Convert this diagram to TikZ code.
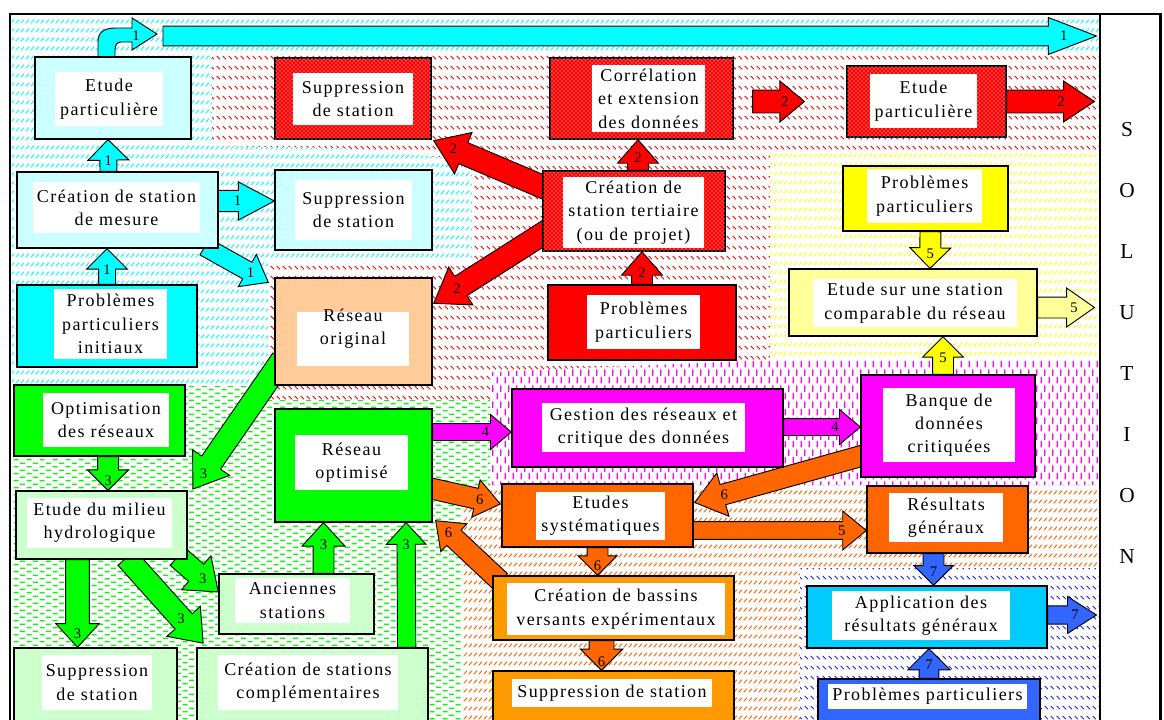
\documentclass[tikz,border=0pt]{standalone}
\usepackage{fontspec}
\setmainfont{Liberation Serif}
\newfontfamily\boxfam{Liberation Serif}[LetterSpace=8]
\usetikzlibrary{calc,fit,patterns,shapes.arrows}

\definecolor{lcyan}{HTML}{CCFFFF}
\definecolor{aqua}{HTML}{00FFFF}
\definecolor{peach}{HTML}{FFCC99}
\definecolor{fred}{HTML}{FF0000}
\definecolor{fyellow}{HTML}{FFFF00}
\definecolor{lyellow}{HTML}{FFFF99}
\definecolor{fmagenta}{HTML}{FF00FF}
\definecolor{fgreen}{HTML}{00FF00}
\definecolor{lgreen}{HTML}{CCFFCC}
\definecolor{forange}{HTML}{FF6600}
\definecolor{amber}{HTML}{FF9900}
\definecolor{sky}{HTML}{00CCFF}
\definecolor{royal}{HTML}{3366FF}
\definecolor{hatchblue}{HTML}{2222EE}

\pgfdeclarepatternformonly{hatchne}{\pgfqpoint{0pt}{0pt}}{\pgfqpoint{4pt}{7pt}}{\pgfqpoint{4pt}{7pt}}{%
  \pgfsetlinewidth{0.75pt}%
  \pgfpathmoveto{\pgfqpoint{0.6pt}{0.6pt}}\pgfpathlineto{\pgfqpoint{3.4pt}{3.4pt}}\pgfusepath{stroke}}
\pgfdeclarepatternformonly{hatchnw}{\pgfqpoint{0pt}{0pt}}{\pgfqpoint{4.5pt}{7.5pt}}{\pgfqpoint{4.5pt}{7.5pt}}{%
  \pgfsetlinewidth{0.75pt}%
  \pgfpathmoveto{\pgfqpoint{0.6pt}{3.4pt}}\pgfpathlineto{\pgfqpoint{3.4pt}{0.6pt}}\pgfusepath{stroke}}
\pgfdeclarepatternformonly{hdash}{\pgfqpoint{0pt}{0pt}}{\pgfqpoint{10pt}{5.6pt}}{\pgfqpoint{10pt}{5.6pt}}{%
  \pgfsetlinewidth{1pt}%
  \pgfpathmoveto{\pgfqpoint{0.5pt}{1pt}}\pgfpathlineto{\pgfqpoint{4.5pt}{1pt}}%
  \pgfpathmoveto{\pgfqpoint{5.5pt}{3.8pt}}\pgfpathlineto{\pgfqpoint{9.5pt}{3.8pt}}\pgfusepath{stroke}}
\pgfdeclarepatternformonly{vdash}{\pgfqpoint{0pt}{0pt}}{\pgfqpoint{6pt}{12pt}}{\pgfqpoint{6pt}{12pt}}{%
  \pgfsetlinewidth{1pt}%
  \pgfpathmoveto{\pgfqpoint{1pt}{0.5pt}}\pgfpathlineto{\pgfqpoint{1pt}{5.5pt}}%
  \pgfpathmoveto{\pgfqpoint{4pt}{6.5pt}}\pgfpathlineto{\pgfqpoint{4pt}{11.5pt}}\pgfusepath{stroke}}

\pgfdeclarelayer{background}
\pgfdeclarelayer{arrowlayer}
\pgfsetlayers{background,arrowlayer,main}

% fat arrow from #2 to #3, number #4 placed at fraction #5
\newcommand{\fatarr}[5]{%
  \path let \p1=#2, \p2=#3, \n1={veclen(\x2-\x1,\y2-\y1)}, \n2={atan2(\y2-\y1,\x2-\x1)} in
    node[fatarrow, #1, minimum height=\n1, rotate=\n2, anchor=tail] at (\p1) {}
    node[num] at ($(\p1)!#5!(\p2)$) {#4};}

\begin{document}
\begin{tikzpicture}[x=0.75pt,y=-0.75pt,
    box/.style={draw=black, line width=1pt, inner sep=0pt},
    dotbox/.style={box, fill=fred, postaction={pattern=crosshatch dots, pattern color=white}},
    txt/.style={inner sep=0pt, align=center, font={\boxfam\fontsize{13.5}{17.5}\selectfont}},
    inbox/.style={fill=white, inner sep=0pt},
    fatarrow/.style={single arrow, draw=black, line width=0.7pt, inner xsep=0pt, inner ysep=7.5pt,
      outer sep=0pt, single arrow head extend=7.5pt, single arrow tip angle=90},
    shaft/.style={inner ysep=#1},
    num/.style={inner sep=0pt, font={\fontsize{11}{11}\selectfont}},
    cyanzone/.style={fill=white, postaction={pattern=hatchne, pattern color=aqua}},
    redzone/.style={fill=white, postaction={pattern=hatchnw, pattern color=fred}},
    yellowzone/.style={fill=white, postaction={pattern=hatchne, pattern color=fyellow}},
    magzone/.style={fill=white, postaction={pattern=vdash, pattern color=fmagenta}},
    greenzone/.style={fill=white, postaction={pattern=hdash, pattern color=fgreen}},
    orangezone/.style={fill=white, postaction={pattern=hatchne, pattern color=forange}},
    bluezone/.style={fill=white, postaction={pattern=hatchnw, pattern color=hatchblue}}]

  \useasboundingbox (0,0) rectangle (1164,719);

  \begin{pgfonlayer}{background}
    \path[cyanzone] (12,15) rectangle (1100,386);
    \path[redzone] (212,52) -- (1100,52) -- (1100,150) -- (770,150) -- (770,362) -- (490,372)
      -- (490,400) -- (268,400) -- (268,262) -- (472,262) -- (472,160) -- (340,148) -- (212,146) -- cycle;
    \path[yellowzone] (770,150) rectangle (1100,360);
    \path[magzone] (490,372) -- (770,360) -- (1100,360) -- (1100,485) -- (490,485) -- cycle;
    \path[greenzone] (12,386) -- (268,386) -- (268,400) -- (490,400) -- (490,485) -- (462,485)
      -- (462,725) -- (12,725) -- cycle;
    \path[orangezone] (462,485) -- (1100,485) -- (1100,568) -- (800,568) -- (800,725) -- (462,725) -- cycle;
    \path[bluezone] (800,568) rectangle (1100,725);
  \end{pgfonlayer}

  % boxes 1
  \node[box, fill=lcyan, fit={(35,57) (191,139)}] (epone) {};
  \node[inbox, fit={(55,72) (163,126)}] (eponein) {};
  \node[txt] (eponel) at (eponein) {Etude\\particulière};
  \node[box, fill=lcyan, fit={(17,172) (218,248)}] (csm) {};
  \node[inbox, fit={(33,182) (200,233)}] (csmin) {};
  \node[txt] (csml) at (csmin) {Création de station\\de mesure};
  \node[box, fill=lcyan, fit={(275,170) (432,250)}] (ssone) {};
  \node[inbox, fit={(295,180) (412,240)}] (ssonein) {};
  \node[txt] (ssonel) at (ssonein) {Suppression\\de station};
  \node[box, fill=aqua, fit={(17,285) (197,367)}] (ppi) {};
  \node[inbox, fit={(54,289) (167,359)}] (ppiin) {};
  \node[txt] (ppil) at (ppiin) {Problèmes\\particuliers\\initiaux};
  \node[box, fill=peach, fit={(275,278) (432,385)}] (ro) {};
  \node[inbox, fit={(297,312) (409,366)}] (roin) {};
  \node[txt] (rol) at ($(roin)+(0,-10)$) {Réseau\\original};

  % boxes 2
  \node[dotbox, fit={(275,58) (431,139)}] (sstwo) {};
  \node[inbox, fit={(293,73) (413,125)}] (sstwoin) {};
  \node[txt] (sstwol) at (sstwoin) {Suppression\\de station};
  \node[dotbox, fit={(550,58) (733,139)}] (ced) {};
  \node[inbox, fit={(592,65) (705,132)}] (cedin) {};
  \node[txt] (cedl) at (cedin) {Corrélation\\et extension\\des données};
  \node[dotbox, fit={(847,66) (1006,137)}] (eptwo) {};
  \node[inbox, fit={(870,74) (977,128)}] (eptwoin) {};
  \node[txt] (eptwol) at (eptwoin) {Etude\\particulière};
  \node[dotbox, fit={(543,171) (725,251)}] (cst) {};
  \node[inbox, fit={(563,177) (704,248)}] (cstin) {};
  \node[txt] (cstl) at (cstin) {Création de\\station tertiaire\\(ou de projet)};
  \node[box, fill=fred, fit={(548,285) (736,360)}] (pptwo) {};
  \node[inbox, fit={(587,295) (700,349)}] (pptwoin) {};
  \node[txt] (pptwol) at (pptwoin) {Problèmes\\particuliers};

  % boxes 5 and 4
  \node[box, fill=fyellow, fit={(843,166) (1008,231)}] (ppfive) {};
  \node[inbox, fit={(867,169) (982,223)}] (ppfivein) {};
  \node[txt] (ppfivel) at (ppfivein) {Problèmes\\particuliers};
  \node[box, fill=lyellow, fit={(789,269) (1037,336)}] (esc) {};
  \node[inbox, fit={(813,279) (1017,327)}] (escin) {};
  \node[txt] (escl) at (escin) {Etude sur une station\\comparable du réseau};
  \node[box, fill=fmagenta, fit={(512,389) (783,467)}] (grd) {};
  \node[inbox, fit={(542,403) (745,452)}] (grdin) {};
  \node[txt] (grdl) at (grdin) {Gestion des réseaux et\\critique des données};
  \node[box, fill=fmagenta, fit={(861,375) (1035,477)}] (bdc) {};
  \node[inbox, fit={(883,388) (1015,462)}] (bdcin) {};
  \node[txt] (bdcl) at (bdcin) {Banque de\\données\\critiquées};

  % boxes 3
  \node[box, fill=fgreen, fit={(14,385) (185,456)}] (opt) {};
  \node[inbox, fit={(43,393) (169,447)}] (optin) {};
  \node[txt] (optl) at (optin) {Optimisation\\des réseaux};
  \node[box, fill=fgreen, fit={(275,409) (432,522)}] (rso) {};
  \node[inbox, fit={(295,435) (408,490)}] (rsoin) {};
  \node[txt] (rsol) at (rsoin) {Réseau\\optimisé};
  \node[box, fill=lgreen, fit={(16,491) (187,559)}] (emh) {};
  \node[inbox, fit={(27,498) (172,548)}] (emhin) {};
  \node[txt] (emhl) at (emhin) {Etude du milieu\\hydrologique};
  \node[box, fill=lgreen, fit={(219,574) (374,634)}] (anc) {};
  \node[inbox, fit={(235,578) (350,623)}] (ancin) {};
  \node[txt] (ancl) at (ancin) {Anciennes\\stations};
  \node[box, fill=lgreen, fit={(14,648) (177,725)}] (ssthree) {};
  \node[inbox, fit={(42,655) (152,710)}] (ssthreein) {};
  \node[txt] (ssthreel) at (ssthreein) {Suppression\\de station};
  \node[box, fill=lgreen, fit={(197,648) (428,725)}] (csc) {};
  \node[inbox, fit={(218,655) (398,710)}] (cscin) {};
  \node[txt] (cscl) at (cscin) {Création de stations\\complémentaires};

  % boxes 6 and 7
  \node[box, fill=forange, fit={(502,484) (693,547)}] (es) {};
  \node[inbox, fit={(536,492) (665,540)}] (esin) {};
  \node[txt] (esl) at (esin) {Etudes\\systématiques};
  \node[box, fill=amber, fit={(493,576) (734,640)}] (cbv) {};
  \node[inbox, fit={(507,583) (725,635)}] (cbvin) {};
  \node[txt] (cbvl) at (cbvin) {Création de bassins\\versants expérimentaux};
  \node[box, fill=amber, fit={(493,671) (734,725)}] (ssfour) {};
  \node[inbox, fit={(512,679) (712,707)}] (ssfourin) {};
  \node[txt] (ssfourl) at (ssfourin) {Suppression de station};
  \node[box, fill=forange, fit={(867,486) (1028,553)}] (rg) {};
  \node[inbox, fit={(889,493) (1003,542)}] (rgin) {};
  \node[txt] (rgl) at (rgin) {Résultats\\généraux};
  \node[box, fill=sky, fit={(807,586) (1047,648)}] (arg) {};
  \node[inbox, fit={(832,591) (1010,640)}] (argin) {};
  \node[txt] (argl) at (argin) {Application des\\résultats généraux};
  \node[box, fill=royal, fit={(818,679) (1040,725)}] (ppseven) {};
  \node[inbox, fit={(828,684) (1027,709)}] (ppsevenin) {};
  \node[txt] (ppsevenl) at (ppsevenin) {Problèmes particuliers};

  % solution panel
  \node[draw=black, line width=0.8pt, fill=white, inner sep=0pt, fit={(1100,14) (1160,725)}] (sol) {};
  \foreach \ch [count=\i] in {S,O,L,U,T,I,O,N}
    \node[font=\fontsize{16}{16}\selectfont] (sol\i) at (1127,{130+61*(\i-1)}) {\ch};
  \draw[line width=2.2pt] (10,725) -- (10,14) -- (1161,14) -- (1161,725);

  \begin{pgfonlayer}{arrowlayer}
    % 1
    \draw[fill=aqua, line width=0.7pt] (98,57) -- (98,42) .. controls (98,32) and (104,28) .. (116,28)
      -- (132,28) -- (132,18) -- (157,34) -- (132,50) -- (132,42) -- (121,42)
      .. controls (117,42) and (115,45) .. (115,50) -- (115,57) -- cycle;
    \node[num] (curvenum) at (136,36) {1};
    \coordinate (topstart) at (163,36);
    \fatarr{fill=aqua, shaft=7.1pt, single arrow head extend=6.4pt, single arrow tip angle=42}{(topstart)}{($(topstart -| sol.west)+(-3,0)$)}{1}{0.965}
    \fatarr{fill=aqua, shaft=6pt, single arrow head extend=9pt}{($(csm.north)+(-9,0)$)}{($(epone.south)+(-5,0)$)}{1}{0.35}
    \fatarr{fill=aqua, shaft=6pt, single arrow head extend=9pt}{(ppi.north)}{($(csm.south)+(-10.5,0)$)}{1}{0.4}
    \fatarr{fill=aqua, shaft=7.6pt, single arrow head extend=6.4pt, single arrow tip angle=56}{($(csm.east)+(-2,-9)$)}{($(ssone.west)+(0,-9)$)}{1}{0.36}
    \fatarr{fill=aqua, shaft=6.75pt, single arrow head extend=6.75pt, single arrow tip angle=75}{($(csm.south east)+(-14,-2)$)}{($(ro.north west)+(-6,5)$)}{1}{0.72}
    % 2
    \fatarr{fill=fred, single arrow tip angle=82}{($(cst.north)+(4,0)$)}{($(ced.south)+(-3.5,0)$)}{2}{0.4}
    \fatarr{fill=fred, single arrow tip angle=82}{(pptwo.north)}{($(cst.south)+(8,0)$)}{2}{0.35}
    \fatarr{fill=fred, shaft=8.25pt, single arrow head extend=8.25pt, single arrow tip angle=70}{($(cst.west)+(8,-21)$)}{($(sstwo.south east)+(2,1)$)}{2}{0.83}
    \fatarr{fill=fred, shaft=8.25pt, single arrow head extend=8.25pt, single arrow tip angle=70}{($(cst.west)+(8,18)$)}{($(ro.north east)+(1,26)$)}{2}{0.8}
    \fatarr{fill=fred, shaft=8.25pt, single arrow head extend=6.75pt, single arrow tip angle=80}{($(ced.east)+(19,3)$)}{($(eptwo.west)+(-42,0)$)}{2}{0.62}
    \fatarr{fill=fred, shaft=8.25pt, single arrow head extend=6.75pt, single arrow tip angle=67}{(eptwo.east)}{($(eptwo.east -| sol.west)+(-5,0)$)}{2}{0.62}
    % 5
    \fatarr{fill=fyellow}{($(ppfive.south)+(5,0)$)}{($(esc.north)+(17,0)$)}{5}{0.6}
    \fatarr{fill=fyellow}{($(bdc.north)+(-5,0)$)}{($(esc.south)+(30,0)$)}{5}{0.45}
    \fatarr{fill=lyellow, single arrow head extend=6.75pt, single arrow tip angle=70}{($(esc.east)+(0,5)$)}{($(esc.east -| sol.west)+(-5,5)$)}{5}{0.64}
    % 4
    \fatarr{fill=fmagenta, shaft=6pt, single arrow head extend=6.75pt, single arrow tip angle=80}{($(rso.east)+(0,-33.5)$)}{($(grd.west)+(0,4)$)}{4}{0.67}
    \fatarr{fill=fmagenta, shaft=6pt, single arrow head extend=6.75pt, single arrow tip angle=80}{($(grd.east)+(0,-1)$)}{($(bdc.west)+(0,1)$)}{4}{0.67}
    % 3
    \fatarr{fill=fgreen, shaft=8.25pt, single arrow head extend=8.25pt, single arrow tip angle=70}{($(ro.west)+(8,28)$)}{($(emh.north east)+(5,-1)$)}{3}{0.88}
    \fatarr{fill=fgreen}{($(opt.south)+(8.5,0)$)}{($(emh.north)+(6.5,0)$)}{3}{0.7}
    \fatarr{fill=fgreen, shaft=8.5pt, single arrow head extend=7.5pt, single arrow tip angle=85}{($(emh.south)+(-24,0)$)}{($(ssthree.north)+(-18,0)$)}{3}{0.84}
    \fatarr{fill=fgreen, shaft=8.25pt, single arrow head extend=8.25pt, single arrow tip angle=75}{($(emh.south east)+(-10,-3)$)}{($(anc.west)+(0,-12)$)}{3}{0.62}
    \fatarr{fill=fgreen, shaft=8.25pt, single arrow head extend=8.25pt, single arrow tip angle=75}{($(emh.south)+(25,-2)$)}{($(csc.north west)+(7,-4)$)}{3}{0.71}
    \fatarr{fill=fgreen, single arrow head extend=8.25pt, single arrow tip angle=85}{($(anc.north)+(27,0)$)}{($(rso.south)+(-30,0)$)}{3}{0.56}
    \fatarr{fill=fgreen, shaft=6.5pt, single arrow head extend=8pt, single arrow tip angle=85}{($(csc.north east)+(-22,0)$)}{($(rso.south)+(52.5,0)$)}{3}{0.82}
    % 6
    \fatarr{fill=forange, single arrow head extend=6.5pt, single arrow tip angle=75}{($(rso.east)+(-6,22)$)}{($(es.west)+(-1,-11.5)$)}{6}{0.72}
    \fatarr{fill=forange, single arrow head extend=6.5pt, single arrow tip angle=75}{($(cbv.north west)+(8,6)$)}{($(rso.south east)+(3,-2)$)}{6}{0.8}
    \fatarr{fill=forange, single arrow head extend=9pt, single arrow tip angle=75}{($(bdc.west)+(8,28)$)}{($(es.east)+(1,-13)$)}{6}{0.83}
    \fatarr{fill=forange, single arrow head extend=6.75pt}{(es.south)}{(es.south |- cbv.north)}{6}{0.65}
    \fatarr{fill=forange, shaft=9pt, single arrow head extend=6.5pt}{($(cbv.south)+(-12,0)$)}{($(ssfour.north)+(-12,0)$)}{6}{0.7}
    \fatarr{fill=forange, shaft=6.25pt, single arrow head extend=8pt, single arrow tip angle=79}{($(es.east)+(-2,15)$)}{($(rg.west)+(0,11)$)}{5}{0.86}
    % 7
    \fatarr{fill=royal, single arrow head extend=7pt}{($(rg.south)+(-14,0)$)}{($(arg.north)+(6.5,0)$)}{7}{0.58}
    \fatarr{fill=royal, shaft=7pt, single arrow head extend=8.5pt}{(ppseven.north)}{($(arg.south)+(2,0)$)}{7}{0.45}
    \fatarr{fill=royal, shaft=6.5pt, single arrow head extend=7pt, single arrow tip angle=65}{($(arg.east)+(0,-2)$)}{($(arg.east -| sol.west)+(-3,-2)$)}{7}{0.56}
  \end{pgfonlayer}
\end{tikzpicture}
\end{document}
